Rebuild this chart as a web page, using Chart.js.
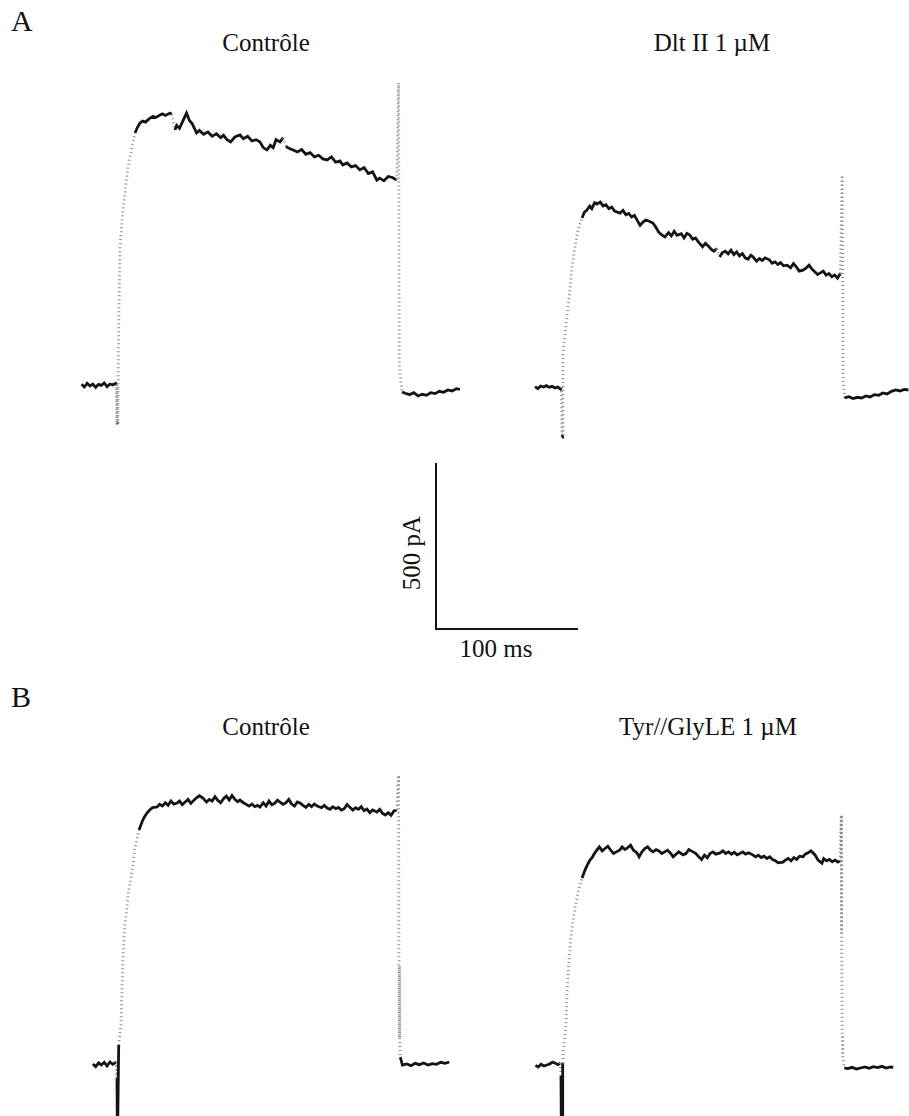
<!DOCTYPE html>
<html>
<head>
<meta charset="utf-8">
<script src="https://cdn.jsdelivr.net/npm/chart.js@4.4.1/dist/chart.umd.min.js"></script>
<style>
  body { margin: 0; background: #fff; }
  #page { position: relative; width: 909px; height: 1116px; overflow: hidden;
          font-family: "Liberation Serif", "Times New Roman", serif; color: #111; }
  #page canvas { position: absolute; }
  .lbl { position: absolute; font-size: 25px; line-height: 25px; white-space: nowrap; }
  .panel { font-size: 30px; line-height: 30px; }
  .center { transform: translateX(-50%); }
</style>
</head>
<body>
<div id="page">
  <div class="lbl panel" style="left:11px; top:6px;">A</div>
  <div class="lbl center" style="left:266px; top:30px;">Contrôle</div>
  <div class="lbl center" style="left:712px; top:30px;">Dlt II 1 µM</div>

  <div class="lbl" style="left:411px; top:553px; transform: translate(-50%, -50%) rotate(-90deg);">500 pA</div>
  <div class="lbl center" style="left:496px; top:636px;">100 ms</div>

  <div class="lbl panel" style="left:11px; top:682px;">B</div>
  <div class="lbl center" style="left:266px; top:714px;">Contrôle</div>
  <div class="lbl center" style="left:708px; top:714px;">Tyr//GlyLE 1 µM</div>

  <canvas id="aCtrl"></canvas>
  <canvas id="aDlt"></canvas>
  <canvas id="scaleBar"></canvas>
  <canvas id="bCtrl"></canvas>
  <canvas id="bTyr"></canvas>
</div>

<script>
// ---- recordings: time (ms, step onset = 0) and current (pA, holding = 0) ----

const aCtrlTime = [-25, -23, -21, -19, -17, -15, -13, -11, -9, -7, -5, -3, -1, -0.3,
  0, 0.6, 1.0, 2.1, 4.2, 5.6, 7.7, 10.6, 12.7, 14.5, 16.2, 18, 20, 23.2, 25.5, 27, 30.3, 32, 34,
  37.3, 38.5, 40.8, 42, 44, 46, 49, 51, 53, 56, 58, 61, 64, 67, 70, 73, 75, 77.5, 80, 83, 86.6,
  89, 92, 95, 98, 100.7, 103, 105.6, 108, 110, 112, 114.8, 117, 119, 121, 124, 127, 130, 133,
  136, 139, 142, 145, 148, 151, 154, 157, 159, 162, 165, 168, 171, 174, 177, 180, 183, 185,
  188, 191, 194, 197,
  198.3, 198.8, 199.5, 200.7, 203, 206, 209, 212, 215, 218, 221, 224, 227, 230, 233, 236, 239, 241.5];
const aCtrlCurrent = [5, -3, 8, 0, 6, -4, 5, 2, 9, -2, 6, 3, 8, 4,
  -110, -115, 118, 419, 530, 581, 660, 720, 762, 780, 792, 798, 795, 807, 812, 808, 816, 820, 815,
  822, 818, 771, 785, 776, 795, 822, 800, 790, 762, 770, 758, 765, 752, 760, 748, 755, 742, 735, 750, 756,
  745, 752, 738, 742, 735, 718, 711, 725, 718, 742, 735, 748, 722, 716, 711, 705, 712, 698,
  703, 690, 695, 684, 681, 690, 674, 678, 666, 672, 660, 664, 651, 658, 640, 645, 620, 626,
  618, 631, 628, 620,
  913, 69, 30, -18, -22, -26, -20, -30, -25, -28, -20, -23, -16, -19, -12, -15, -8, -10];

const aDltTime = [-19, -17, -15, -13, -11, -9, -7, -5, -3, -1, -0.5,
  0, 0.4, 0.7, 3.5, 5.6, 7.0, 9.2, 11.3, 14.1, 15.8, 17.6, 19.5, 21, 23, 24.6, 27, 29, 31, 33,
  35, 37, 40.8, 43, 45, 47, 49, 51, 53, 55, 57, 59, 61, 64, 66, 68, 70, 72.5, 75, 77, 79, 81,
  84, 86, 88, 90, 92, 94, 96, 99, 101, 103, 105, 107, 109, 111, 113, 115, 117, 119, 121, 123,
  125, 127, 129, 131, 133, 134.5, 137, 139, 141, 143, 146, 148, 150, 152, 154, 156, 158.5,
  161, 163, 165, 167, 169.7, 172, 174, 176, 178, 180, 181.7, 184, 186, 188, 190, 192, 194, 196,
  197.3, 198, 199, 202, 205, 208, 211, 214, 217, 220, 223, 226, 229, 232, 235, 238, 241, 244];
const aDltCurrent = [4, -2, 6, 3, 7, 2, 5, 0, 3, -3, 2,
  -148, -140, 105, 214, 295, 364, 425, 476, 512, 530, 536, 548, 540, 558, 554, 560, 548, 552, 540,
  545, 533, 527, 535, 522, 526, 515, 520, 505, 490, 500, 506, 503, 497, 485, 470, 462, 455, 468, 458, 472, 460,
  465, 452, 466, 461, 448, 452, 440, 425, 436, 428, 418, 412, 420, 395, 408, 412, 404, 415, 402, 410,
  398, 405, 392, 388, 400, 395, 382, 390, 384, 392, 386, 376, 380, 372, 378, 368, 370,
  362, 375, 365, 352, 355, 362, 370, 358, 350, 342, 346, 352, 340, 345, 335, 340, 331, 345,
  641, 24, -30, -26, -32, -28, -30, -24, -27, -20, -22, -15, -18, -10, -6, -9, -4, -6];

const bCtrlTime = [-17, -15, -13, -11, -9, -7, -5, -3, -1.5, -0.5,
  0, 0.3, 0.7, 1.2, 2.8, 4.2, 5.5, 7.0, 8, 9.2, 11.3, 12.5, 14.1, 15.5, 17.6, 19, 21.1, 23, 25,
  28.2, 30, 32, 34, 36, 38, 40, 42.3, 44, 46, 48, 50, 52, 54, 56, 58, 60.6, 63, 65, 67, 69, 71,
  73, 75, 77, 79, 81, 83, 85, 86.6, 89, 91, 93, 95, 97, 99, 100.7, 103, 105, 107, 109, 111, 113,
  114.8, 117, 119, 121, 123, 125, 127, 128.9, 131, 133, 135, 137, 139, 141, 144, 146, 148, 150,
  152, 154, 156, 158, 160, 162, 164, 166, 168, 170, 172, 174, 176, 178, 180, 183, 185, 187, 189,
  191, 193, 195, 197,
  198.3, 198.6, 199, 199.5, 201, 204, 207, 210, 213, 216, 219, 222, 225, 228, 231, 234];
const bCtrlCurrent = [3, -5, 6, 0, 8, -3, 9, 2, 6, 10,
  -40, -250, -250, 60, 120, 325, 420, 473, 520, 548, 602, 650, 678, 708, 732, 745, 759, 768, 775,
  777, 785, 780, 790, 782, 795, 786, 789, 795, 784, 792, 800, 788, 797, 805, 811, 804, 792, 800, 795, 808, 797,
  790, 802, 810, 798, 812, 800, 793, 798, 790, 785, 780, 786, 778, 782, 777, 790, 780, 795, 784, 788, 798,
  792, 785, 790, 800, 786, 780, 792, 789, 782, 776, 785, 778, 786, 780, 775, 782, 774, 770,
  778, 772, 776, 768, 772, 785, 776, 768, 775, 770, 778, 766, 771, 760, 768, 762, 770, 758, 753,
  760, 752, 765, 768,
  873, 300, 80, 24, 0, 3, -2, 5, 1, 6, 0, 4, 2, 8, 5, 9];

const bTyrTime = [-18, -16, -14, -12, -10, -8, -6, -4, -2, -0.5,
  0, 0.3, 0.8, 1.2, 1.4, 3.5, 4.2, 5.6, 7.0, 8.5, 9.9, 12, 14.8, 16.9, 18.5, 20.4, 22, 23.5, 25.4,
  27, 29, 31, 33, 35, 37, 39, 41.5, 43, 45, 47, 49, 51, 53.5, 55, 57, 59, 61, 63, 64.8, 67, 69,
  71, 73, 75, 77, 79, 81, 83, 86, 88, 90, 93, 95, 97, 99, 101, 103, 105, 107, 109, 112, 114, 116,
  118, 120, 122, 124, 126, 128, 130, 132, 135, 137, 139, 141, 143, 145, 147, 149, 151, 153, 156.3,
  158, 160, 162, 164, 166, 168, 170.4, 172, 174, 176, 177.5, 179, 181, 183.8, 185, 187, 189, 191,
  193, 195, 196.5,
  197.3, 197.6, 198, 198.5, 199.5, 202, 205, 208, 211, 214, 217, 220, 223, 226, 229, 232, 234];
const bTyrCurrent = [2, -3, 5, 0, 3, 6, 12, 8, 4, 9,
  -30, -250, -250, 10, 39, 117, 220, 319, 389, 440, 476, 524, 566, 590, 605, 620, 628, 640, 651,
  660, 648, 655, 662, 650, 640, 645, 651, 660, 652, 658, 665, 650, 642, 630, 645, 655, 660, 650, 645, 652, 648,
  640, 645, 650, 642, 630, 638, 645, 636, 640, 652, 645, 640, 630, 622, 635, 627, 640, 645, 638, 642, 648, 640,
  645, 638, 644, 636, 640, 645, 638, 642, 636, 630, 635, 628, 632, 625, 630, 622, 618, 612, 614,
  620, 625, 618, 628, 622, 632, 630, 638, 642, 648, 642, 635, 620, 611, 625, 618, 622, 615,
  620, 614, 618,
  756, 400, 100, 27, -6, -8, -4, -9, -6, -3, -7, -2, -5, -1, -6, -3, -4];

// calibration bar
const barTime = [0, 0, 100];
const barCurrent = [500, 0, 0];

// ---- drawing ----

// every trace shares one calibration: pixels per ms and per pA
const PX_PER_MS = 1.42;
const PX_PER_PA = 0.332;

// fast transitions are drawn faint and broken, like the sampled points on screen
function isSteep(ctx) {
  const dx = Math.abs(ctx.p1.x - ctx.p0.x);
  const dy = Math.abs(ctx.p1.y - ctx.p0.y);
  return dy > 8 && dy > 2.5 * dx;
}

// the capacitive dip below holding (drawn solid in panel B)
function isDip(ctx) {
  return Math.min(ctx.p0.parsed.y, ctx.p1.parsed.y) < -100;
}

// box = canvas position on the page, zero = page pixel of (0 ms, 0 pA)
function traceChart(id, box, zero, times, currents, opts) {
  opts = opts || {};
  const canvas = document.getElementById(id);
  canvas.width = box.w;
  canvas.height = box.h;
  canvas.style.left = box.x + 'px';
  canvas.style.top = box.y + 'px';
  const points = times.map((t, i) => ({ x: t, y: currents[i] }));

  const faint = ctx => isSteep(ctx) && !(opts.solidDip && isDip(ctx));

  return new Chart(canvas.getContext('2d'), {
    type: 'line',
    data: {
      datasets: [{
        data: points,
        borderColor: '#141414',
        borderWidth: opts.plain ? 2 : 2.8,
        pointRadius: 0,
        tension: 0,
        clip: opts.plain ? false : undefined,
        segment: opts.plain ? {} : {
          borderColor: ctx => faint(ctx) ? '#8c8c8c' : undefined,
          borderDash: ctx => faint(ctx) ? [1, 3] : undefined
        }
      }]
    },
    options: {
      responsive: false,
      animation: false,
      events: [],
      layout: { padding: 0 },
      plugins: { legend: { display: false }, tooltip: { enabled: false } },
      scales: {
        x: {
          type: 'linear', display: false,
          min: (box.x - zero.x) / PX_PER_MS,
          max: (box.x + box.w - zero.x) / PX_PER_MS
        },
        y: {
          type: 'linear', display: false,
          min: (zero.y - (box.y + box.h)) / PX_PER_PA,
          max: (zero.y - box.y) / PX_PER_PA
        }
      }
    }
  });
}

traceChart('aCtrl', { x: 60, y: 70, w: 420, h: 380 }, { x: 117, y: 386 }, aCtrlTime, aCtrlCurrent);
traceChart('aDlt', { x: 510, y: 150, w: 399, h: 310 }, { x: 562, y: 388 }, aDltTime, aDltCurrent);
traceChart('bCtrl', { x: 60, y: 760, w: 420, h: 356 }, { x: 117, y: 1065 }, bCtrlTime, bCtrlCurrent, { solidDip: true });
traceChart('bTyr', { x: 510, y: 800, w: 399, h: 316 }, { x: 561, y: 1066 }, bTyrTime, bTyrCurrent, { solidDip: true });
traceChart('scaleBar', { x: 425, y: 455, w: 165, h: 185 }, { x: 436, y: 629 }, barTime, barCurrent, { plain: true });
</script>
</body>
</html>
